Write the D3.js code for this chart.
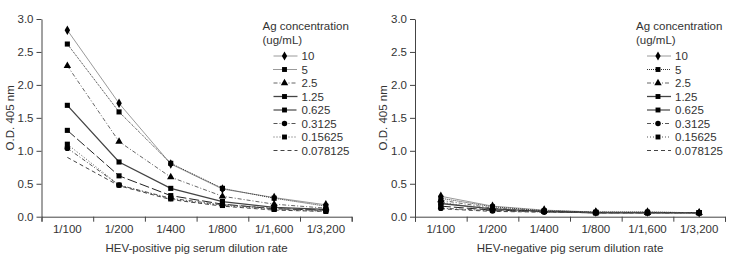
<!DOCTYPE html>
<html>
<head>
<meta charset="utf-8">
<script src="https://cdn.jsdelivr.net/npm/d3@7"></script>
<style>
  body { margin: 0; background: #fff; }
  svg { font-family: "Liberation Sans", Arial, sans-serif; }
  .axis path, .axis line { stroke: #444; }
  .axis text { fill: #333; font-size: 11.5px; }
</style>
</head>
<body>
<svg id="chart" width="734" height="257"></svg>
<script>
const dilutions = ['1/100', '1/200', '1/400', '1/800', '1/1,600', '1/3,200'];
const concentrations = ['10', '5', '2.5', '1.25', '0.625', '0.3125', '0.15625', '0.078125'];
const yTicks = [0, 0.5, 1.0, 1.5, 2.0, 2.5, 3.0];

// HEV-positive serum, one row per Ag concentration
const positiveValues = [
  [2.83, 1.72, 0.80, 0.42, 0.29, 0.18],
  [2.62, 1.59, 0.81, 0.43, 0.28, 0.16],
  [2.29, 1.14, 0.60, 0.31, 0.19, 0.13],
  [1.69, 0.83, 0.43, 0.23, 0.14, 0.11],
  [1.31, 0.62, 0.32, 0.19, 0.12, 0.10],
  [1.04, 0.48, 0.28, 0.18, 0.13, 0.09],
  [1.10, 0.48, 0.27, 0.17, 0.11, 0.08],
  [0.90, 0.47, 0.26, 0.16, 0.10, 0.08]
];
// HEV-negative serum
const negativeValues = [
  [0.31, 0.16, 0.10, 0.07, 0.07, 0.06],
  [0.28, 0.15, 0.09, 0.07, 0.07, 0.06],
  [0.25, 0.13, 0.09, 0.07, 0.06, 0.06],
  [0.20, 0.12, 0.08, 0.06, 0.06, 0.06],
  [0.16, 0.10, 0.08, 0.06, 0.06, 0.06],
  [0.13, 0.09, 0.07, 0.06, 0.06, 0.06],
  [0.22, 0.10, 0.08, 0.06, 0.06, 0.06],
  [0.12, 0.08, 0.07, 0.06, 0.06, 0.06]
];

// line / marker look per concentration
const styles = [
  { stroke: '#9a9a9a', width: 1,   dash: null,      symbol: d3.symbolDiamond },
  { stroke: '#333',    width: 1,   dash: '1,1',     symbol: d3.symbolSquare },
  { stroke: '#666',    width: 1,   dash: '4,2,1,2', symbol: d3.symbolTriangle },
  { stroke: '#444',    width: 1.3, dash: null,      symbol: d3.symbolSquare },
  { stroke: '#222',    width: 1,   dash: '10,3',    symbol: d3.symbolSquare },
  { stroke: '#555',    width: 1,   dash: '4,2,1,2', symbol: d3.symbolCircle },
  { stroke: '#555',    width: 1,   dash: '1,2',     symbol: d3.symbolSquare },
  { stroke: '#444',    width: 1,   dash: '4,3',     symbol: null }
];

const svg = d3.select('#chart');
const height = 257;
const margin = { top: 19, bottom: 40 };

function drawPanel(left, right, values, title) {
  const x = d3.scaleBand().domain(dilutions).range([left, right]);
  const xEdges = d3.scaleLinear().domain([0, dilutions.length]).range([left, right]);
  const y = d3.scaleLinear().domain([0, 3]).range([height - margin.bottom - 0.3, margin.top]);
  const g = svg.append('g');

  g.append('g').attr('class', 'axis')
    .attr('transform', `translate(0,${y(0)})`)
    .call(d3.axisBottom(xEdges).ticks(dilutions.length).tickFormat('').tickSizeOuter(5).tickSize(5));

  g.append('g').attr('class', 'axis')
    .attr('transform', `translate(0,${y(0)})`)
    .call(d3.axisBottom(x).tickSize(0).tickPadding(8))
    .call(a => a.select('.domain').remove());

  g.append('g').attr('class', 'axis')
    .attr('transform', `translate(${left},0)`)
    .call(d3.axisLeft(y).tickValues(yTicks).tickFormat(d3.format('.1f')).tickSize(5).tickSizeOuter(0).tickPadding(3));

  g.append('text')
    .attr('x', (left + right) / 2).attr('y', 252)
    .attr('text-anchor', 'middle').attr('font-size', 11.5).attr('fill', '#333')
    .text(title);

  g.append('text')
    .attr('transform', `translate(${left - 28},${(y(0) + y(3)) / 2}) rotate(-90)`)
    .attr('text-anchor', 'middle').attr('font-size', 11.5).attr('fill', '#333')
    .text('O.D. 405 nm');

  const line = d3.line().x((d, i) => x(dilutions[i]) + x.bandwidth() / 2).y(d => y(d));

  values.forEach((row, k) => {
    const s = styles[k];
    g.append('path').datum(row)
      .attr('d', line).attr('fill', 'none')
      .attr('stroke', s.stroke).attr('stroke-width', s.width)
      .attr('stroke-dasharray', s.dash);
  });
  values.forEach((row, k) => {
    const s = styles[k];
    if (!s.symbol) return;
    g.selectAll(null).data(row).enter().append('path')
      .attr('d', d3.symbol().type(s.symbol).size(s.symbol === d3.symbolTriangle ? 24 : 26))
      .attr('transform', (d, i) => `translate(${x(dilutions[i]) + x.bandwidth() / 2},${y(d)})`)
      .attr('fill', '#000');
  });

  // legend
  const lx = left + 221;
  const leg = g.append('g').attr('font-size', 11.5).attr('fill', '#333');
  leg.append('text').attr('x', lx).attr('y', 30).text('Ag concentration');
  leg.append('text').attr('x', lx).attr('y', 44).text('(ug/mL)');
  concentrations.forEach((c, k) => {
    const s = styles[k];
    const ly = 56 + k * 13.5;
    leg.append('line')
      .attr('x1', lx + 11).attr('x2', lx + 35).attr('y1', ly).attr('y2', ly)
      .attr('stroke', s.stroke).attr('stroke-width', s.width)
      .attr('stroke-dasharray', s.dash);
    if (s.symbol) {
      leg.append('path')
        .attr('d', d3.symbol().type(s.symbol).size(24))
        .attr('transform', `translate(${lx + 22},${ly})`)
        .attr('fill', '#000');
    }
    leg.append('text').attr('x', lx + 39).attr('y', ly + 4).text(c);
  });
}

drawPanel(41.5, 351.7, positiveValues, 'HEV-positive pig serum dilution rate');
drawPanel(415, 725, negativeValues, 'HEV-negative pig serum dilution rate');
</script>
</body>
</html>
